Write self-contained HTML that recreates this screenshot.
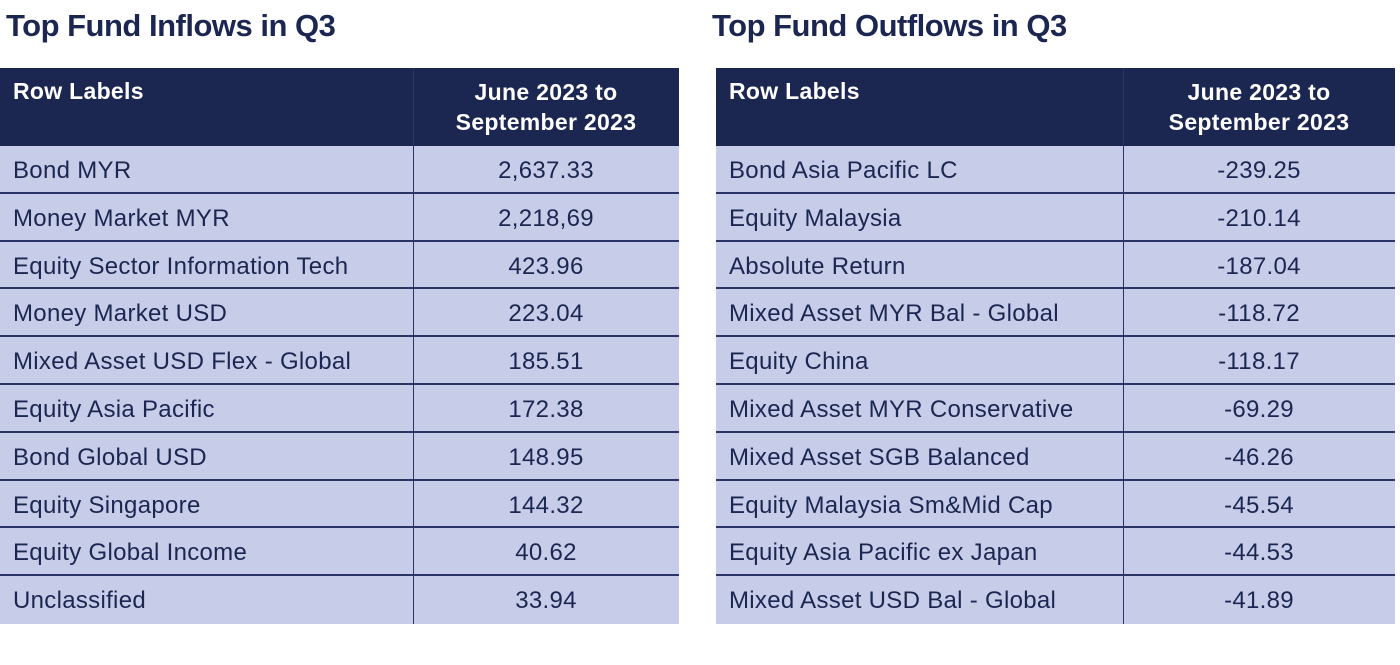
<!DOCTYPE html>
<html><head><style>
body{margin:0;width:1400px;height:665px;background:#fff;position:relative;overflow:hidden;font-family:"Liberation Sans",sans-serif;color:#1b2651}
.t{position:absolute;top:8px;font-size:31px;font-weight:bold;letter-spacing:-0.5px}
.tb{position:absolute;top:68px;width:679px;height:556px;background:#c7cce8}
.hd{position:absolute;left:0;top:0;width:679px;height:78px;background:#1b2651;color:#fff;font-weight:bold;font-size:23px;letter-spacing:0.3px}
.vl{position:absolute;top:0;width:1px;height:556px;background:#2a3566}
.hl{position:absolute;left:0;width:679px;height:1.5px;background:#2a3566}
.r{position:absolute;left:13px;font-size:24px;line-height:24px;letter-spacing:0.3px;margin-top:2px}
.v{position:absolute;font-size:24px;line-height:24px;text-align:center;letter-spacing:0.3px;margin-top:2px}
</style></head><body>
<div class="t" style="left:6px">Top Fund Inflows in Q3</div>
<div class="t" style="left:712px">Top Fund Outflows in Q3</div>

<div class="tb" style="left:0">
<div class="hd"><div style="position:absolute;left:13px;top:10px">Row Labels</div><div style="position:absolute;left:413px;width:266px;top:9px;text-align:center;line-height:30px">June 2023 to<br>September 2023</div></div>
<div class="vl" style="left:413px"></div>
<div class="hl" style="top:124px"></div><div class="hl" style="top:172px"></div><div class="hl" style="top:219px"></div><div class="hl" style="top:267px"></div><div class="hl" style="top:315px"></div><div class="hl" style="top:363px"></div><div class="hl" style="top:411px"></div><div class="hl" style="top:458px"></div><div class="hl" style="top:506px"></div>
<div class="r" style="top:89px">Bond MYR</div><div class="v" style="left:413px;width:266px;top:89px">2,637.33</div>
<div class="r" style="top:137px">Money Market MYR</div><div class="v" style="left:413px;width:266px;top:137px">2,218,69</div>
<div class="r" style="top:185px">Equity Sector Information Tech</div><div class="v" style="left:413px;width:266px;top:185px">423.96</div>
<div class="r" style="top:232px">Money Market USD</div><div class="v" style="left:413px;width:266px;top:232px">223.04</div>
<div class="r" style="top:280px">Mixed Asset USD Flex - Global</div><div class="v" style="left:413px;width:266px;top:280px">185.51</div>
<div class="r" style="top:328px">Equity Asia Pacific</div><div class="v" style="left:413px;width:266px;top:328px">172.38</div>
<div class="r" style="top:376px">Bond Global USD</div><div class="v" style="left:413px;width:266px;top:376px">148.95</div>
<div class="r" style="top:424px">Equity Singapore</div><div class="v" style="left:413px;width:266px;top:424px">144.32</div>
<div class="r" style="top:471px">Equity Global Income</div><div class="v" style="left:413px;width:266px;top:471px">40.62</div>
<div class="r" style="top:519px">Unclassified</div><div class="v" style="left:413px;width:266px;top:519px">33.94</div>
</div>

<div class="tb" style="left:716px">
<div class="hd"><div style="position:absolute;left:13px;top:10px">Row Labels</div><div style="position:absolute;left:407px;width:272px;top:9px;text-align:center;line-height:30px">June 2023 to<br>September 2023</div></div>
<div class="vl" style="left:407px"></div>
<div class="hl" style="top:124px"></div><div class="hl" style="top:172px"></div><div class="hl" style="top:219px"></div><div class="hl" style="top:267px"></div><div class="hl" style="top:315px"></div><div class="hl" style="top:363px"></div><div class="hl" style="top:411px"></div><div class="hl" style="top:458px"></div><div class="hl" style="top:506px"></div>
<div class="r" style="top:89px">Bond Asia Pacific LC</div><div class="v" style="left:407px;width:272px;top:89px">-239.25</div>
<div class="r" style="top:137px">Equity Malaysia</div><div class="v" style="left:407px;width:272px;top:137px">-210.14</div>
<div class="r" style="top:185px">Absolute Return</div><div class="v" style="left:407px;width:272px;top:185px">-187.04</div>
<div class="r" style="top:232px">Mixed Asset MYR Bal - Global</div><div class="v" style="left:407px;width:272px;top:232px">-118.72</div>
<div class="r" style="top:280px">Equity China</div><div class="v" style="left:407px;width:272px;top:280px">-118.17</div>
<div class="r" style="top:328px">Mixed Asset MYR Conservative</div><div class="v" style="left:407px;width:272px;top:328px">-69.29</div>
<div class="r" style="top:376px">Mixed Asset SGB Balanced</div><div class="v" style="left:407px;width:272px;top:376px">-46.26</div>
<div class="r" style="top:424px">Equity Malaysia Sm&amp;Mid Cap</div><div class="v" style="left:407px;width:272px;top:424px">-45.54</div>
<div class="r" style="top:471px">Equity Asia Pacific ex Japan</div><div class="v" style="left:407px;width:272px;top:471px">-44.53</div>
<div class="r" style="top:519px">Mixed Asset USD Bal - Global</div><div class="v" style="left:407px;width:272px;top:519px">-41.89</div>
</div>
</body></html>
